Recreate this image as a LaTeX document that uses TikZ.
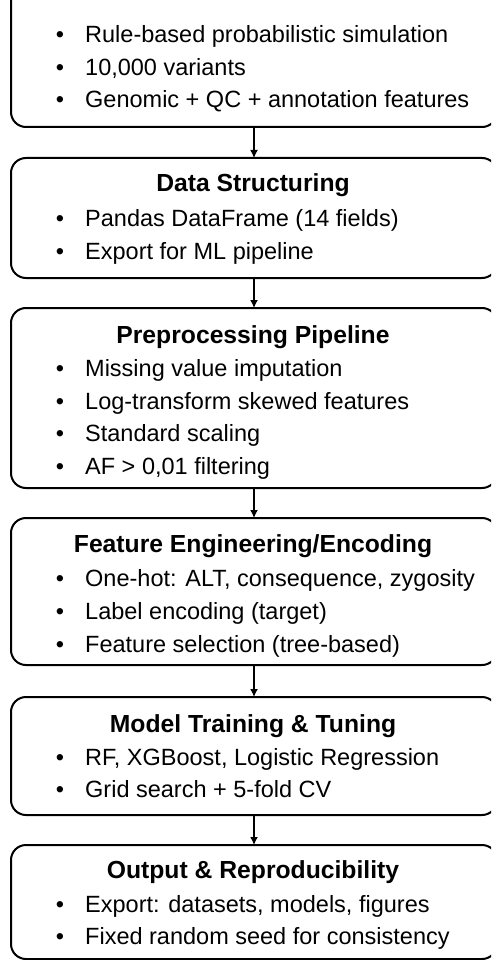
\documentclass[tikz,border=0pt]{standalone}
\usepackage{fontspec}
\setmainfont{Liberation Sans}
\usetikzlibrary{arrows.meta}
\begin{document}
\begin{tikzpicture}[x=1pt,y=-1pt,
  stagebox/.style={draw=black, line width=2pt, rounded corners=15pt, rectangle,
    minimum width=486pt, inner sep=0pt, outer sep=0pt},
  ttl/.style={anchor=base, font=\fontsize{24.7}{28}\selectfont\bfseries, inner sep=0pt},
  itm/.style={anchor=base west, font=\fontsize{23.5}{28}\selectfont, inner sep=0pt},
  bul/.style={anchor=base, font=\fontsize{23.5}{28}\selectfont, inner sep=0pt},
  flow/.style={line width=1.5pt, -{Latex[length=8pt,width=8pt]}}
]
\useasboundingbox (0,0) rectangle (491,960);
\begin{scope}
\clip (0,0) rectangle (491,960);
% boxes
\node[stagebox, minimum height=167pt] (b1) at (254,43.5) {};
\node[stagebox, minimum height=120pt] (b2) at (254,218) {};
\node[stagebox, minimum height=180pt] (b3) at (254,398) {};
\node[stagebox, minimum height=147pt] (b4) at (254,591.5) {};
\node[stagebox, minimum height=118pt] (b5) at (254,756) {};
\node[stagebox, minimum height=114pt] (b6) at (254,902) {};
\end{scope}
% box 1
\node[bul] (b1d1) at (60,43) {•};
\node[itm] (b1i1) at (85,43) {Rule-based probabilistic simulation};
\node[bul] (b1d2) at (60,75.5) {•};
\node[itm] (b1i2) at (85,75.5) {10,000 variants};
\node[bul] (b1d3) at (60,108) {•};
\node[itm] (b1i3) at (85,108) {Genomic + QC + annotation features};
% box 2
\node[ttl] (t2) at (253,192) {Data Structuring};
\node[bul] (b2d1) at (60,226) {•};
\node[itm] (b2i1) at (85,226) {Pandas DataFrame (14 fields)};
\node[bul] (b2d2) at (60,259) {•};
\node[itm] (b2i2) at (85,259) {Export for ML pipeline};
% box 3
\node[ttl] (t3) at (253,343) {Preprocessing Pipeline};
\node[bul] (b3d1) at (60,376) {•};
\node[itm] (b3i1) at (85,376) {Missing value imputation};
\node[bul] (b3d2) at (60,409) {•};
\node[itm] (b3i2) at (85,409) {Log-transform skewed features};
\node[bul] (b3d3) at (60,441.5) {•};
\node[itm] (b3i3) at (85,441.5) {Standard scaling};
\node[bul] (b3d4) at (60,474) {•};
\node[itm] (b3i4) at (85,474) {AF > 0,01 filtering};
% box 4
\node[ttl] (t4) at (253,552) {Feature Engineering/Encoding};
\node[bul] (b4d1) at (60,586) {•};
\node[itm] (b4i1) at (85,586) {One-hot: ALT, consequence, zygosity};
\node[bul] (b4d2) at (60,619) {•};
\node[itm] (b4i2) at (85,619) {Label encoding (target)};
\node[bul] (b4d3) at (60,652) {•};
\node[itm] (b4i3) at (85,652) {Feature selection (tree-based)};
% box 5
\node[ttl] (t5) at (253,732) {Model Training \& Tuning};
\node[bul] (b5d1) at (60,765) {•};
\node[itm] (b5i1) at (85,765) {RF, XGBoost, Logistic Regression};
\node[bul] (b5d2) at (60,797.5) {•};
\node[itm] (b5i2) at (85,797.5) {Grid search + 5-fold CV};
% box 6
\node[ttl] (t6) at (253,878) {Output \& Reproducibility};
\node[bul] (b6d1) at (60,912) {•};
\node[itm] (b6i1) at (85,912) {Export: datasets, models, figures};
\node[bul] (b6d2) at (60,944) {•};
\node[itm] (b6i2) at (85,944) {Fixed random seed for consistency};
% arrows
\draw[flow] (b1.south) -- (b2.north);
\draw[flow] (b2.south) -- (b3.north);
\draw[flow] (b3.south) -- (b4.north);
\draw[flow] (b4.south) -- (b5.north);
\draw[flow] (b5.south) -- (b6.north);
\end{tikzpicture}
\end{document}
